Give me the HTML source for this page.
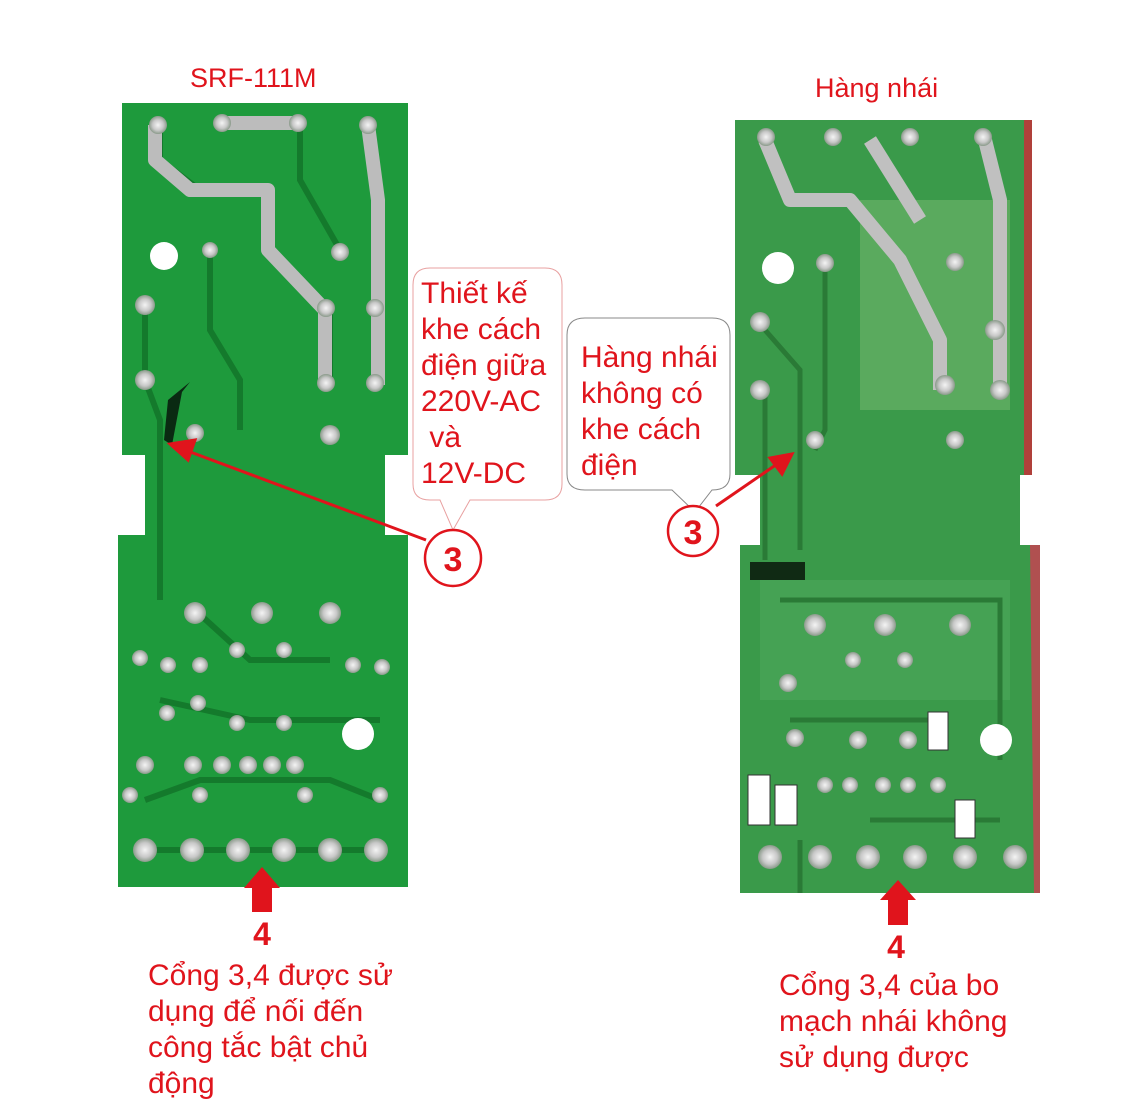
<!DOCTYPE html>
<html><head><meta charset="utf-8"><style>
body{margin:0;width:1138px;height:1116px;background:#fff;position:relative;overflow:hidden;font-family:"Liberation Sans",sans-serif}
.t{position:absolute;color:#e0141c;font-size:30px;line-height:36px;white-space:nowrap}
</style></head><body>
<svg width="1138" height="1116" style="position:absolute;left:0;top:0">
<defs>
<radialGradient id="pad"><stop offset="0" stop-color="#f4f4f4"/><stop offset="0.6" stop-color="#c8c8c8"/><stop offset="1" stop-color="#8a9a8a"/></radialGradient>
</defs>
<path d="M122 103H408V455H385V535H408V887H118V535H145V455H122Z" fill="#1e9a3c"/>
<g fill="none" stroke="#147a2c" stroke-width="6">
<path d="M160 120V160L200 190H270V250L330 310V380"/><path d="M370 120L380 200V380"/><path d="M300 120V180L340 250"/>
<path d="M210 250V330L240 380V430"/><path d="M145 300V380L160 420V600"/><path d="M195 610L250 660H330"/>
<path d="M160 700L250 720H380"/><path d="M145 800L200 780H330L380 800"/><path d="M140 850H380"/>
</g>
<g fill="none" stroke="#bcbcbc" stroke-width="14" stroke-linejoin="round">
<path d="M155 125V160L190 190H268V250L325 310V385"/><path d="M222 123H298"/><path d="M368 125L378 200V385"/>
</g>
<path d="M168 400L190 382L182 392L172 445L164 440Z" fill="#0a2a12"/>
<circle cx="164" cy="256" r="14" fill="#fff"/><circle cx="358" cy="734" r="16" fill="#fff"/>
<g fill="url(#pad)">
<circle cx="158" cy="125" r="9"/><circle cx="222" cy="123" r="9"/><circle cx="298" cy="123" r="9"/><circle cx="368" cy="125" r="9"/>
<circle cx="210" cy="250" r="8"/><circle cx="340" cy="252" r="9"/><circle cx="145" cy="305" r="10"/><circle cx="326" cy="308" r="9"/><circle cx="375" cy="308" r="9"/>
<circle cx="145" cy="380" r="10"/><circle cx="326" cy="383" r="9"/><circle cx="375" cy="383" r="9"/><circle cx="195" cy="433" r="9"/><circle cx="330" cy="435" r="10"/>
<circle cx="195" cy="613" r="11"/><circle cx="262" cy="613" r="11"/><circle cx="330" cy="613" r="11"/>
<circle cx="237" cy="650" r="8"/><circle cx="284" cy="650" r="8"/><circle cx="140" cy="658" r="8"/><circle cx="168" cy="665" r="8"/><circle cx="200" cy="665" r="8"/><circle cx="353" cy="665" r="8"/><circle cx="382" cy="667" r="8"/>
<circle cx="198" cy="703" r="8"/><circle cx="167" cy="713" r="8"/><circle cx="237" cy="723" r="8"/><circle cx="284" cy="723" r="8"/>
<circle cx="145" cy="765" r="9"/><circle cx="193" cy="765" r="9"/><circle cx="222" cy="765" r="9"/><circle cx="248" cy="765" r="9"/><circle cx="272" cy="765" r="9"/><circle cx="295" cy="765" r="9"/>
<circle cx="130" cy="795" r="8"/><circle cx="200" cy="795" r="8"/><circle cx="305" cy="795" r="8"/><circle cx="380" cy="795" r="8"/>
<circle cx="145" cy="850" r="12"/><circle cx="192" cy="850" r="12"/><circle cx="238" cy="850" r="12"/><circle cx="284" cy="850" r="12"/><circle cx="330" cy="850" r="12"/><circle cx="376" cy="850" r="12"/>
</g>
<path d="M735 120H1030V475H1020V545H1040V893H740V545H760V475H735Z" fill="#3a9a4a"/>
<path d="M1024 120H1032V475H1024Z" fill="#b0403a"/>
<path d="M1030 545H1040V893H1034Z" fill="#b05050"/>
<path d="M860 200H1010V410H860Z" fill="#5aaa5e"/>
<path d="M760 580H1010V700H760Z" fill="#4aa558" opacity="0.7"/>
<g fill="none" stroke="#2a7a36" stroke-width="5">
<path d="M765 330L800 370V550"/><path d="M765 390V560"/><path d="M825 265V430L815 450"/>
<path d="M780 600H1000V760"/><path d="M790 720H940"/><path d="M800 840V893"/><path d="M870 820H1000"/>
</g>
<g fill="none" stroke="#c0c0c0" stroke-width="14" stroke-linejoin="round">
<path d="M765 140L790 200H850L900 260L940 340V390"/><path d="M985 140L1000 200V390"/><path d="M870 140L920 220"/>
</g>
<circle cx="778" cy="268" r="16" fill="#fff"/><circle cx="996" cy="740" r="16" fill="#fff"/>
<rect x="750" y="562" width="55" height="18" fill="#102a14"/>
<g fill="url(#pad)">
<circle cx="766" cy="137" r="9"/><circle cx="833" cy="137" r="9"/><circle cx="910" cy="137" r="9"/><circle cx="983" cy="137" r="9"/>
<circle cx="825" cy="263" r="9"/><circle cx="955" cy="262" r="9"/><circle cx="760" cy="322" r="10"/><circle cx="760" cy="390" r="10"/><circle cx="815" cy="440" r="9"/><circle cx="955" cy="440" r="9"/><circle cx="995" cy="330" r="10"/><circle cx="1000" cy="390" r="10"/><circle cx="945" cy="385" r="10"/>
<circle cx="815" cy="625" r="11"/><circle cx="885" cy="625" r="11"/><circle cx="960" cy="625" r="11"/><circle cx="853" cy="660" r="8"/><circle cx="905" cy="660" r="8"/><circle cx="788" cy="683" r="9"/>
<circle cx="795" cy="738" r="9"/><circle cx="858" cy="740" r="9"/><circle cx="908" cy="740" r="9"/>
<circle cx="825" cy="785" r="8"/><circle cx="850" cy="785" r="8"/><circle cx="883" cy="785" r="8"/><circle cx="908" cy="785" r="8"/><circle cx="938" cy="785" r="8"/>
<circle cx="770" cy="857" r="12"/><circle cx="820" cy="857" r="12"/><circle cx="868" cy="857" r="12"/><circle cx="915" cy="857" r="12"/><circle cx="965" cy="857" r="12"/><circle cx="1015" cy="857" r="12"/>
</g>
<g fill="#fff" stroke="#333" stroke-width="1"><rect x="748" y="775" width="22" height="50"/><rect x="775" y="785" width="22" height="40"/><rect x="928" y="712" width="20" height="38"/><rect x="955" y="800" width="20" height="38"/></g>
<path d="M430 268H545Q562 268 562 285V484Q562 500 545 500H470L453 530L440 500H430Q413 500 413 484V285Q413 268 430 268Z" fill="#fff" stroke="#e8a0a0" stroke-width="1"/>
<path d="M585 318H712Q730 318 730 335V474Q730 490 712 490H712L695 512L672 490H585Q567 490 567 474V335Q567 318 585 318Z" fill="#fff" stroke="#888" stroke-width="1"/>
<g stroke="#e0141c" stroke-width="3" fill="#e0141c">
<line x1="426" y1="540" x2="185" y2="450"/><path d="M170 444L195 440L188 460Z"/>
<line x1="716" y1="506" x2="780" y2="462"/><path d="M792 454L770 458L782 474Z"/>
</g>
<circle cx="453" cy="558" r="28" fill="#fff" stroke="#e0141c" stroke-width="2.5"/>
<circle cx="693" cy="531" r="25" fill="#fff" stroke="#e0141c" stroke-width="2.5"/>
<text x="453" y="571" fill="#e0141c" font-size="34" font-weight="bold" text-anchor="middle" font-family="Liberation Sans">3</text>
<text x="693" y="544" fill="#e0141c" font-size="34" font-weight="bold" text-anchor="middle" font-family="Liberation Sans">3</text>
<path d="M252 912V888H244L262 867L280 888H272V912Z" fill="#e0141c"/>
<path d="M888 925V900H880L898 880L916 900H908V925Z" fill="#e0141c"/>
<text x="262" y="945" fill="#e0141c" font-size="32" font-weight="bold" text-anchor="middle" font-family="Liberation Sans">4</text>
<text x="896" y="958" fill="#e0141c" font-size="32" font-weight="bold" text-anchor="middle" font-family="Liberation Sans">4</text>
</svg>
<div class="t" style="left:190px;top:60px;font-size:27px">SRF-111M</div>
<div class="t" style="left:815px;top:70px;font-size:27px">Hàng nhái</div>
<div class="t" style="left:421px;top:276px">Thiết kế<br>khe cách<br>điện giữa<br>220V-AC<br>&nbsp;và<br>12V-DC</div>
<div class="t" style="left:581px;top:340px;line-height:36px">Hàng nhái<br>không có<br>khe cách<br>điện</div>
<div class="t" style="left:148px;top:958px">Cổng 3,4 được sử<br>dụng để nối đến<br>công tắc bật chủ<br>động</div>
<div class="t" style="left:779px;top:968px">Cổng 3,4 của bo<br>mạch nhái không<br>sử dụng được</div>
</body></html>
